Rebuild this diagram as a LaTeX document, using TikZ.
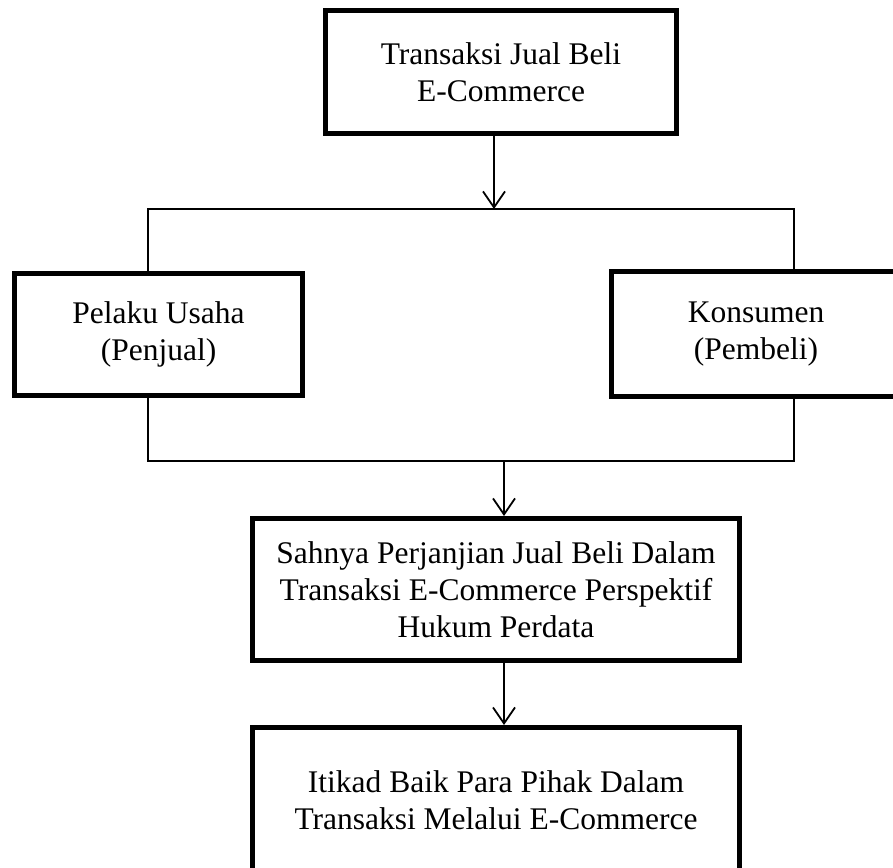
\documentclass[tikz,border=0pt]{standalone}
\usepackage{fontspec}
\setmainfont{Liberation Serif}
\usetikzlibrary{arrows.meta}
\tikzset{
  box/.style={draw=black, line width=5pt, fill=white, align=center, inner sep=0pt,
    font=\fontsize{31.5}{37}\selectfont},
  thin/.style={draw=black, line width=1.8pt},
  arr/.style={thin, -{Straight Barb[length=16pt,width=22pt,line width=1.8pt]}}
}
\begin{document}
\begin{tikzpicture}[x=1pt,y=-1pt]
\useasboundingbox (0,0) rectangle (893,867);
\clip (0,0) rectangle (893,867);
\node[box, minimum width=351pt, minimum height=123pt] (top) at (501,72) {Transaksi Jual Beli\\E-Commerce};
\node[box, minimum width=288pt, minimum height=122pt] (left) at (158.5,334.5) {Pelaku Usaha\\(Penjual)};
\node[box, minimum width=289pt, minimum height=125pt] (right) at (756,334) {Konsumen\\(Pembeli)};
\node[box, minimum width=487pt, minimum height=142pt] (mid) at (496,589.5) {Sahnya Perjanjian Jual Beli Dalam\\Transaksi E-Commerce Perspektif\\Hukum Perdata};
\node[box, minimum width=487pt, minimum height=145pt] (bot) at (496,800) {Itikad Baik Para Pihak Dalam\\Transaksi Melalui E-Commerce};
\coordinate (hl) at (148,209);
\coordinate (hr) at (794,209);
\coordinate (j1) at (494,209);
\coordinate (ll) at (148,461);
\coordinate (lr) at (794,461);
\coordinate (j2) at (504,461);
\draw[arr] (top.south -| j1) -- (j1);
\draw[thin] (left.north -| hl) -- (hl) -- (hr) -- (right.north -| hr);
\draw[thin] (left.south -| ll) -- (ll) -- (lr) -- (right.south -| lr);
\draw[arr] (j2) -- (mid.north -| j2);
\draw[arr] (mid.south -| j2) -- (bot.north -| j2);
\end{tikzpicture}
\end{document}
